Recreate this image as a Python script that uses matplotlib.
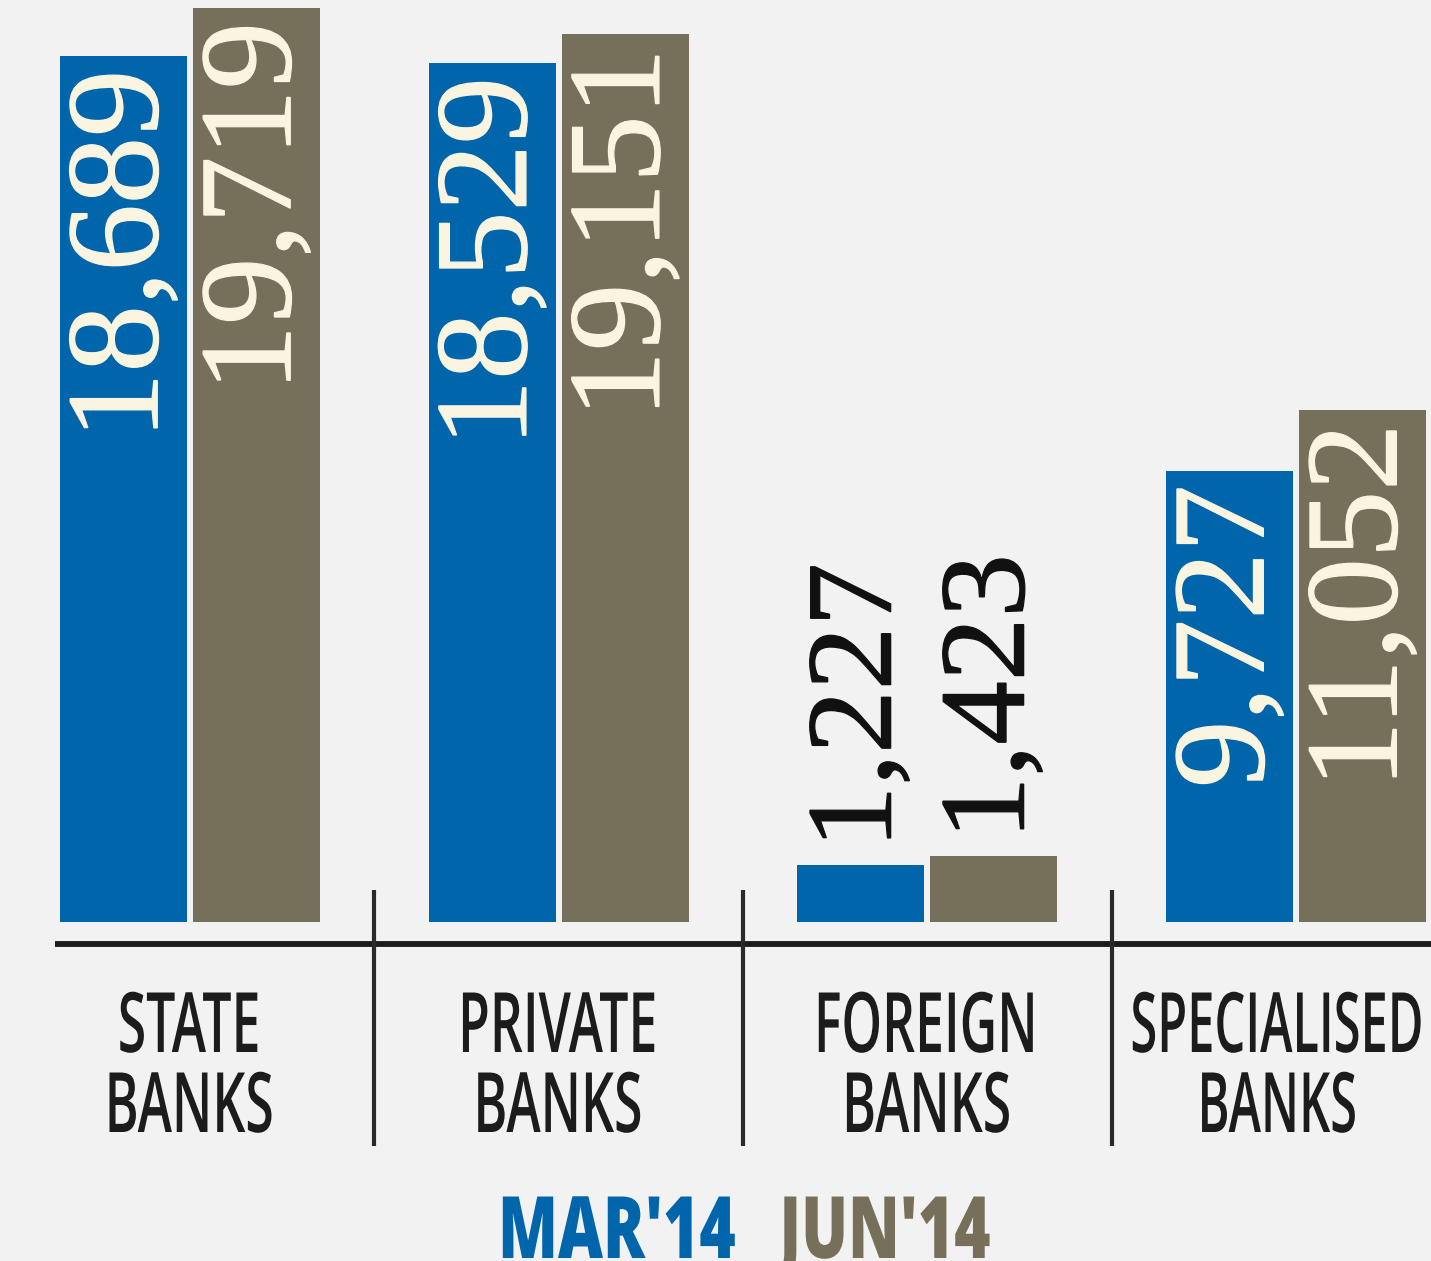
import numpy as np
import matplotlib
matplotlib.use("Agg")
import matplotlib.pyplot as plt
from matplotlib.patheffects import AbstractPathEffect
from matplotlib.transforms import Affine2D, Bbox

# ---------------- data ----------------
categories = ["STATE\nBANKS", "PRIVATE\nBANKS", "FOREIGN\nBANKS", "SPECIALISED\nBANKS"]
mar14 = [18689, 18529, 1227, 9727]
jun14 = [19719, 19151, 1423, 11052]
series_labels = ["MAR'14", "JUN'14"]

# ---------------- style ----------------
BLUE = "#0065aa"
OLIVE = "#76705a"
BG = "#f2f2f2"
CREAM = "#faf5e1"
INK = "#1c1c1c"


class Squeeze(AbstractPathEffect):
    """Scale text glyphs along the writing direction (condense / widen),
    optionally thickening strokes."""

    def __init__(self, sx, anchor="center", stroke=0.0):
        super().__init__()
        self.sx = sx
        self.anchor = anchor
        self.stroke = stroke

    def draw_path(self, renderer, gc, tpath, affine, rgbFace=None):
        v = tpath.vertices
        if len(v):
            lo, hi = v[:, 0].min(), v[:, 0].max()
        else:
            lo = hi = 0
        cx = {"center": (lo + hi) / 2, "start": lo, "end": hi}[self.anchor]
        t = Affine2D().translate(-cx, 0).scale(self.sx, 1).translate(cx, 0) + affine
        if self.stroke > 0:
            gc0 = renderer.new_gc()
            gc0.copy_properties(gc)
            gc0.set_linewidth(self.stroke)
            gc0.set_foreground(rgbFace)
            gc0.set_joinstyle("miter")
            renderer.draw_path(gc0, tpath, t, rgbFace)
            gc0.restore()
        else:
            renderer.draw_path(gc, tpath, t, rgbFace)


def condensed_text(ax, x, y, s, sx, **kw):
    """Horizontal, centred text drawn condensed; its reported extent matches."""
    t = ax.text(x, y, s, ha="center", path_effects=[Squeeze(sx)], **kw)
    orig = t.get_window_extent

    def ext(renderer=None, dpi=None):
        bb = orig(renderer=renderer, dpi=dpi)
        cx = (bb.x0 + bb.x1) / 2
        hw = bb.width * sx / 2
        return Bbox.from_extents(cx - hw, bb.y0, cx + hw, bb.y1)

    t.get_window_extent = ext
    return t


W, H = 1431, 1261
fig = plt.figure(figsize=(W / 100, H / 100), dpi=100, facecolor=BG)
ax = fig.add_axes([0, 0, 1, 1])
ax.set_facecolor(BG)
ax.axis("off")

GROUP_PX = 368.7
X0_PX = 190
BASE_PX = 922
UNIT_PER_PX = 21.574
ax.set_xlim(-X0_PX / GROUP_PX, (W - X0_PX) / GROUP_PX)
ax.set_ylim(-(H - BASE_PX) * UNIT_PER_PX, BASE_PX * UNIT_PER_PX)


def px_x(p):
    return (p - X0_PX) / GROUP_PX


def px_y(p):
    return (BASE_PX - p) * UNIT_PER_PX


def dx(p):
    return p / GROUP_PX


def dy(p):
    return p * UNIT_PER_PX


x = np.arange(len(categories))
bw = dx(127)
off = dx(66.5)
b1 = ax.bar(x - off, mar14, bw, color=BLUE, zorder=2)
b2 = ax.bar(x + off, jun14, bw, color=OLIVE, zorder=2)

for bars, vals in ((b1, mar14), (b2, jun14)):
    for rect, v in zip(bars, vals):
        cx = rect.get_x() + rect.get_width() / 2
        lab = f"{v:,}"
        if v > 5000:
            ax.text(cx + dx(2), v - dy(14), lab, rotation=90, ha="center", va="top",
                    color=CREAM, fontsize=95, family="Liberation Serif", zorder=3,
                    path_effects=[Squeeze(1.02, anchor="end", stroke=0.9)])
        else:
            ax.text(cx, v + dy(16), lab, rotation=90, ha="center", va="bottom",
                    color="#111111", fontsize=88, family="Liberation Serif", zorder=3,
                    path_effects=[Squeeze(1.04, anchor="start", stroke=0.9)])

# baseline and separators
ax.plot([px_x(55), px_x(W + 5)], [px_y(944)] * 2, color=INK, lw=4.2,
        solid_capstyle="butt", zorder=1)
for i in range(len(categories) - 1):
    ax.plot([i + 0.5] * 2, [px_y(890), px_y(1146)], color="#2a2a2a", lw=3.0,
            solid_capstyle="butt", zorder=1)

# category labels
label_shift = [0, 0, 0, -18]
label_sx = [0.62, 0.62, 0.62, 0.585]
for i, cat in enumerate(categories):
    for j, line in enumerate(cat.split("\n")):
        condensed_text(ax, i + dx(label_shift[i]), px_y(1052 + 80 * j), line,
                       label_sx[i], va="baseline", fontsize=60, family="Open Sans",
                       weight="semibold", color=INK)

# legend
for lab, col, cxp in zip(series_labels, [BLUE, OLIVE], [617, 886]):
    condensed_text(ax, px_x(cxp), px_y(1258), lab, 0.72, va="baseline",
                   fontsize=62, family="Open Sans", weight="heavy", color=col)

fig.savefig("out.png", dpi=100, facecolor=BG)
